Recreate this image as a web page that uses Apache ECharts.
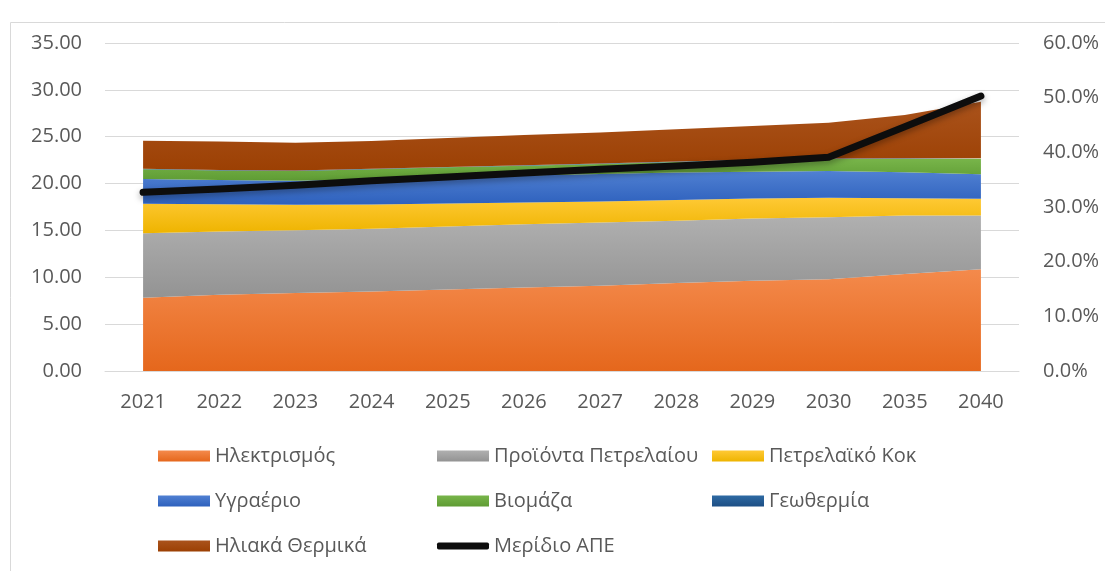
<!DOCTYPE html>
<html>
<head>
<meta charset="utf-8">
<title>Κατανάλωση ενέργειας</title>
<script src="https://cdn.jsdelivr.net/npm/echarts@6/dist/echarts.min.js"></script>
<style>
  html, body { margin: 0; padding: 0; background: #fff; }
  #chart { width: 1105px; height: 571px; }
</style>
</head>
<body>
<div id="chart"></div>
<script>
  // χρονιές (κατηγορίες του άξονα x)
  const years = ['2021', '2022', '2023', '2024', '2025', '2026', '2027', '2028', '2029', '2030', '2035', '2040'];

  // τιμές ανά πηγή, διαβασμένες από την εικόνα
  const electricity = [7.81, 8.13, 8.31, 8.49, 8.70, 8.91, 9.11, 9.38, 9.63, 9.80, 10.34, 10.87];
  const oilProducts = [6.90, 6.75, 6.72, 6.68, 6.72, 6.76, 6.73, 6.64, 6.64, 6.60, 6.25, 5.72];
  const petCoke = [3.13, 2.92, 2.70, 2.61, 2.45, 2.31, 2.26, 2.24, 2.13, 2.10, 1.85, 1.78];
  const lpg = [2.66, 2.59, 2.56, 2.67, 2.78, 2.87, 2.93, 2.91, 2.85, 2.83, 2.77, 2.63];
  const biomass = [1.02, 1.01, 1.05, 1.07, 1.08, 1.06, 1.07, 1.13, 1.23, 1.29, 1.44, 1.65];
  const geothermal = [0.05, 0.05, 0.05, 0.05, 0.05, 0.05, 0.05, 0.05, 0.05, 0.05, 0.05, 0.05];
  const solarThermal = [3.01, 3.05, 2.96, 2.98, 3.07, 3.23, 3.31, 3.45, 3.62, 3.83, 4.63, 6.04];
  const resShare = [0.327, 0.333, 0.340, 0.348, 0.355, 0.362, 0.369, 0.375, 0.382, 0.391, 0.447, 0.503];

  const leftTicks = { min: 0, max: 35, interval: 5 };
  const rightTicks = { min: 0, max: 0.6, interval: 0.1 };

  const chart = echarts.init(document.getElementById('chart'));

  const textColor = '#595959';
  const font = 'Open Sans';

  const grad = (top, bottom) =>
    new echarts.graphic.LinearGradient(0, 0, 0, 1, [
      { offset: 0, color: top },
      { offset: 1, color: bottom },
    ]);

  const area = (name, data, top, bottom) => ({
    name,
    type: 'line',
    stack: 'total',
    data,
    symbol: 'none',
    lineStyle: { width: 0 },
    itemStyle: { color: grad(top, bottom) },
    areaStyle: { color: grad(top, bottom), opacity: 1 },
    emphasis: { disabled: true },
  });

  const legendBase = {
    orient: 'vertical',
    top: 446,
    padding: 0,
    icon: 'rect',
    itemWidth: 52,
    itemHeight: 11,
    itemGap: 25,
    selectedMode: false,
    textStyle: { color: textColor, fontFamily: font, fontSize: 20, lineHeight: 20 },
  };

  const option = {
    animation: false,
    textStyle: { fontFamily: font },
    graphic: [
      {
        type: 'rect',
        shape: { x: 10.5, y: 22.5, width: 1200, height: 700 },
        style: { fill: 'none', stroke: '#d9d9d9', lineWidth: 1 },
        silent: true,
      },
    ],
    legend: [
      { ...legendBase, left: 158, data: ['Ηλεκτρισμός', 'Υγραέριο', 'Ηλιακά Θερμικά'] },
      { ...legendBase, left: 437, data: ['Προϊόντα Πετρελαίου', 'Βιομάζα'] },
      { ...legendBase, left: 712, data: ['Πετρελαϊκό Κοκ', 'Γεωθερμία'] },
      {
        ...legendBase,
        left: 437,
        top: 536,
        icon: 'roundRect',
        itemHeight: 7,
        data: ['Μερίδιο ΑΠΕ'],
      },
    ],
    grid: {
      left: 105,
      right: 86,
      top: 43,
      bottom: 200,
      containLabel: false,
    },
    xAxis: {
      type: 'category',
      data: years,
      boundaryGap: true,
      axisLine: { lineStyle: { color: '#d9d9d9', width: 1 } },
      axisTick: { show: false },
      axisLabel: { color: textColor, fontSize: 20, fontFamily: font, margin: 21 },
    },
    yAxis: [
      {
        type: 'value',
        ...leftTicks,
        axisLine: { show: false },
        axisTick: { show: false },
        splitLine: { lineStyle: { color: '#d9d9d9', width: 1 } },
        axisLabel: {
          color: textColor,
          fontSize: 20,
          fontFamily: font,
          margin: 23,
          formatter: (v) => v.toFixed(2),
        },
      },
      {
        type: 'value',
        ...rightTicks,
        position: 'right',
        axisLine: { show: false },
        axisTick: { show: false },
        splitLine: { show: false },
        axisLabel: {
          color: textColor,
          fontSize: 20,
          fontFamily: font,
          margin: 24,
          formatter: (v) => (v * 100).toFixed(1) + '%',
        },
      },
    ],
    series: [
      area('Ηλεκτρισμός', electricity, '#f48a4c', '#e5671c'),
      area('Προϊόντα Πετρελαίου', oilProducts, '#b0b0b0', '#939393'),
      area('Πετρελαϊκό Κοκ', petCoke, '#ffc935', '#eeb400'),
      area('Υγραέριο', lpg, '#5080d2', '#2e61bd'),
      area('Βιομάζα', biomass, '#78b54a', '#5f9c34'),
      area('Γεωθερμία', geothermal, '#2e6aa3', '#1d4f85'),
      area('Ηλιακά Θερμικά', solarThermal, '#aa531c', '#9c4003'),
      {
        name: 'Μερίδιο ΑΠΕ',
        type: 'line',
        yAxisIndex: 1,
        data: resShare,
        symbol: 'none',
        z: 10,
        itemStyle: { color: '#0d0d0d' },
        lineStyle: {
          color: '#0d0d0d',
          width: 7,
          cap: 'round',
          join: 'round',
          shadowColor: 'rgba(0, 0, 0, 0.35)',
          shadowBlur: 6,
          shadowOffsetY: 3,
        },
        emphasis: { disabled: true },
      },
    ],
  };

  chart.setOption(option);
</script>
</body>
</html>
